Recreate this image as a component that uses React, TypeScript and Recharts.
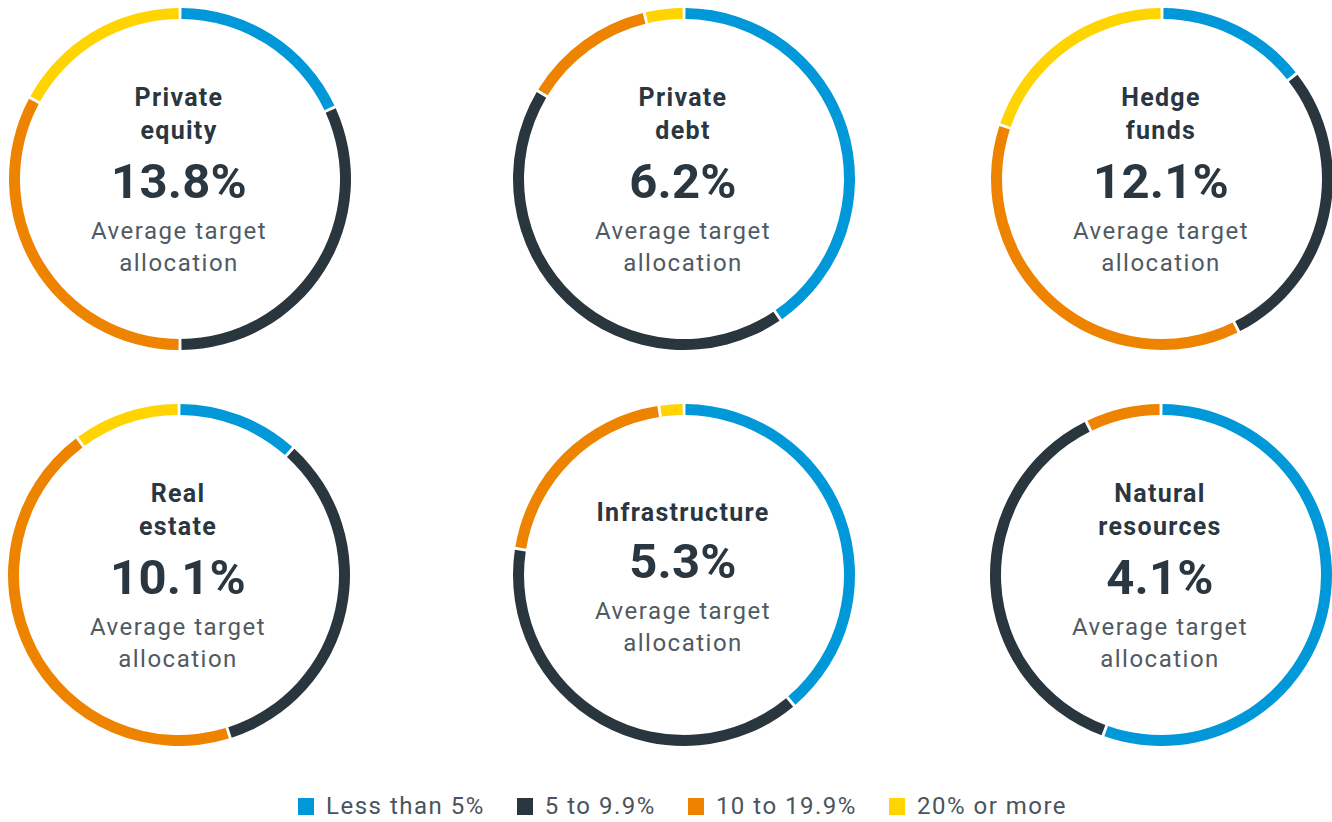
import React from 'react';
import { PieChart, Pie, Cell, Label } from 'recharts';

const categories = ['Less than 5%', '5 to 9.9%', '10 to 19.9%', '20% or more'];
const colors = ['#0098D8', '#2A363E', '#EE8300', '#FFD400'];

const assetTitles: string[][] = [
  ['Private', 'equity'],
  ['Private', 'debt'],
  ['Hedge', 'funds'],
  ['Real', 'estate'],
  ['Infrastructure'],
  ['Natural', 'resources'],
];
const averages = ['13.8%', '6.2%', '12.1%', '10.1%', '5.3%', '4.1%'];

const lessThan5 = [18, 40.6, 14.3, 11.5, 39, 55.7];
const fiveTo10 = [32, 43.4, 28.2, 33.6, 38.8, 37.3];
const tenTo20 = [33, 12.5, 37.7, 44.9, 20.1, 7];
const twentyPlus = [17, 3.5, 19.8, 10, 2.1, 0];

const centers = [
  [180, 179],
  [684, 179],
  [1162, 179],
  [179, 575],
  [684, 575],
  [1161, 575],
];

const SIZE = 360;

function CenterText(props: any) {
  const { viewBox, title, avg } = props;
  const cx = viewBox?.cx ?? SIZE / 2;
  const cy = viewBox?.cy ?? SIZE / 2;
  const lineH = 33.5;
  const shift = title.length === 1 ? -16 : 0;
  const titleStart = cy - 82 + (title.length === 1 ? 19 : 0);
  const font = 'Roboto, sans-serif';
  return (
    <g>
      {title.map((t: string, i: number) => (
        <text
          key={i}
          x={cx - 1}
          y={titleStart + i * lineH}
          textAnchor="middle"
          dominantBaseline="central"
          fontFamily={font}
          fontWeight={700}
          fontSize={25}
          fill="#2B3740"
          style={{ letterSpacing: '1.3px' }}
        >
          {t}
        </text>
      ))}
      <text
        x={cx - 1}
        y={cy + 2 + shift}
        textAnchor="middle"
        dominantBaseline="central"
        fontFamily={font}
        fontWeight={700}
        fontSize={49}
        fill="#2B3740"
        style={{ letterSpacing: '0.2px' }}
      >
        {avg}
      </text>
      <text
        x={cx - 1}
        y={cy + 52 + shift}
        textAnchor="middle"
        dominantBaseline="central"
        fontFamily={font}
        fontWeight={400}
        fontSize={24}
        fill="#505A62"
        style={{ letterSpacing: '1.5px' }}
      >
        Average target
      </text>
      <text
        x={cx - 1}
        y={cy + 84 + shift}
        textAnchor="middle"
        dominantBaseline="central"
        fontFamily={font}
        fontWeight={400}
        fontSize={24}
        fill="#505A62"
        style={{ letterSpacing: '1.5px' }}
      >
        allocation
      </text>
    </g>
  );
}

export default function App() {
  return (
    <div
      style={{
        position: 'absolute',
        left: 0,
        top: 0,
        width: 1332,
        height: 822,
        background: '#ffffff',
        overflow: 'hidden',
      }}
    >
      {assetTitles.map((title, idx) => {
        const values = [lessThan5[idx], fiveTo10[idx], tenTo20[idx], twentyPlus[idx]];
        const data = values
          .map((v, i) => ({ name: categories[i], value: v, color: colors[i] }))
          .filter((d) => d.value > 0);
        const [cx, cy] = centers[idx];
        return (
          <div
            key={idx}
            style={{ position: 'absolute', left: cx - SIZE / 2, top: cy - SIZE / 2, width: SIZE, height: SIZE }}
          >
            <PieChart width={SIZE} height={SIZE} margin={{ top: 0, right: 0, bottom: 0, left: 0 }}>
              <Pie
                data={data}
                dataKey="value"
                nameKey="name"
                cx="50%"
                cy="50%"
                innerRadius={160}
                outerRadius={171}
                startAngle={89.5}
                endAngle={-270.5}
                paddingAngle={1}
                stroke="none"
                isAnimationActive={false}
              >
                {data.map((d, i) => (
                  <Cell key={i} fill={d.color} />
                ))}
                <Label
                  position="center"
                  content={(p: any) => <CenterText {...p} title={title} avg={averages[idx]} />}
                />
              </Pie>
            </PieChart>
          </div>
        );
      })}
      <div
        style={{
          position: 'absolute',
          left: 298,
          top: 792,
          height: 28,
          display: 'flex',
          alignItems: 'center',
          fontFamily: 'Roboto, sans-serif',
          fontSize: 24,
          letterSpacing: '1.5px',
          color: '#4A545C',
          whiteSpace: 'nowrap',
        }}
      >
        {categories.map((c, i) => (
          <div key={i} style={{ display: 'flex', alignItems: 'center', marginLeft: i === 0 ? 0 : 32 }}>
            <div style={{ width: 16, height: 17, background: colors[i], marginRight: 12 }} />
            <span>{c}</span>
          </div>
        ))}
      </div>
    </div>
  );
}
